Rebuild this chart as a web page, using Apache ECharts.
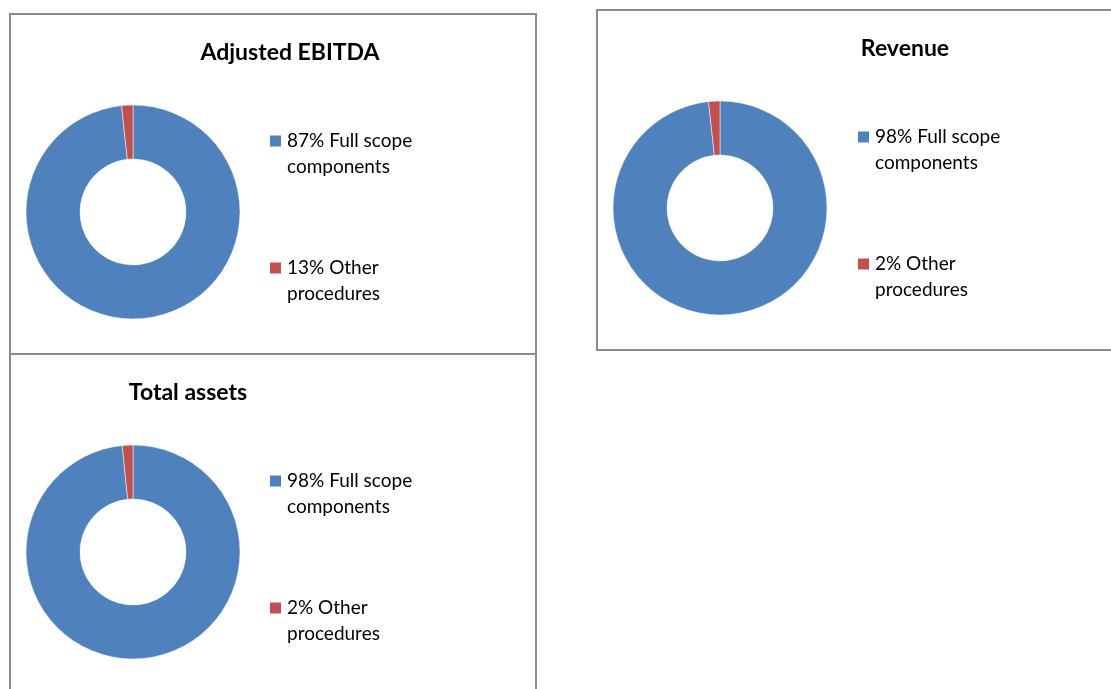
<!DOCTYPE html>
<html>
<head>
<meta charset="utf-8">
<title>Scope coverage</title>
<script src="https://cdn.jsdelivr.net/npm/echarts@6/dist/echarts.min.js"></script>
<style>
  html, body { margin: 0; padding: 0; background: #fff; }
  #graph { width: 1111px; height: 689px; }
</style>
</head>
<body>
<div id="graph"></div>
<script>
// chart titles
const titles = ['Adjusted EBITDA', 'Revenue', 'Total assets'];
// legend labels per chart (as printed)
const ebitdaNames = ['87% Full scope\ncomponents', '13% Other\nprocedures'];
const revenueNames = ['98% Full scope\ncomponents', '2% Other\nprocedures'];
const assetsNames = ['98% Full scope\ncomponents', '2% Other\nprocedures'];
// slice sizes as drawn in the picture
const ebitdaValues = [98.3, 1.7];
const revenueValues = [98.3, 1.7];
const assetsValues = [98.4, 1.6];

const colors = ['#4F81BD', '#C0504D'];
const font = 'Lato, "Open Sans", sans-serif';

// panel boxes: [x, y, w, h], center of donut, title x, legend left/top
const panels = [
  { box: [10, 14, 526, 340], center: [133, 212], titleX: 290, titleY: 41, legendX: 268, legendY: 102 },
  { box: [597, 10, 530, 340], center: [720, 208], titleX: 905, titleY: 37, legendX: 856, legendY: 98 },
  { box: [10, 354, 526, 360], center: [133, 552], titleX: 188, titleY: 381, legendX: 268, legendY: 442 }
];

const names = [ebitdaNames, revenueNames, assetsNames];
const values = [ebitdaValues, revenueValues, assetsValues];

function toData(n, v) {
  return n.map((name, i) => ({ name: name, value: v[i] }));
}

let myChart = echarts.init(document.getElementById('graph'), null, { renderer: 'canvas' });

let option = {
  animation: false,
  color: colors,
  graphic: panels.map(p => ({
    type: 'rect',
    shape: { x: p.box[0], y: p.box[1], width: p.box[2], height: p.box[3] },
    style: { fill: 'none', stroke: '#8c8c8c', lineWidth: 2 },
    z: -1
  })),
  title: panels.map((p, i) => ({
    text: titles[i],
    left: p.titleX,
    top: p.titleY,
    textAlign: 'center',
    padding: 0,
    textStyle: { fontFamily: font, fontSize: 23, fontWeight: 'bold', color: '#000' }
  })),
  legend: panels.map((p, i) => ({
    orient: 'vertical',
    left: p.legendX,
    top: p.legendY,
    padding: 0,
    itemWidth: 13,
    itemHeight: 13,
    itemGap: 49,
    icon: 'rect',
    selectedMode: false,
    data: names[i],
    // leading blank line keeps the marker level with the first text line
    formatter: name => '\n' + name,
    textStyle: { fontFamily: font, fontSize: 19, color: '#000', lineHeight: 26 }
  })),
  series: panels.map((p, i) => ({
    type: 'pie',
    center: p.center,
    radius: [53, 107],
    startAngle: 90,
    clockwise: true,
    label: { show: false },
    labelLine: { show: false },
    emphasis: { disabled: true },
    itemStyle: { borderColor: '#fff', borderWidth: 0.5 },
    data: toData(names[i], values[i])
  }))
};

myChart.setOption(option);
</script>
</body>
</html>
